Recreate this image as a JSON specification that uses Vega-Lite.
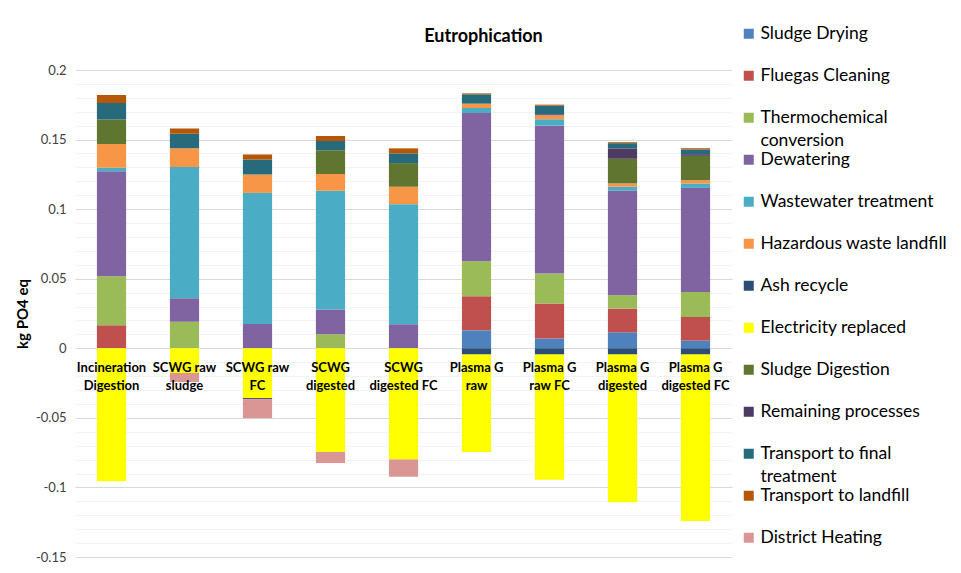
{
  "$schema": "https://vega.github.io/schema/vega-lite/v6.json",
  "width": 657,
  "height": 487,
  "autosize": {"type": "none"},
  "padding": {"left": 75, "top": 70, "right": 229, "bottom": 16},
  "background": "white",
  "title": {"text": "Eutrophication", "font": "Lato", "fontSize": 18, "fontWeight": "bold", "color": "#000000", "anchor": "middle", "dx": 80, "offset": -39, "baseline": "bottom"},
  "config": {"view": {"stroke": null}},
  "data": {"values": [
    {"category": "Incineration Digestion", "process": "Fluegas Cleaning", "value": 0.0165},
    {"category": "Incineration Digestion", "process": "Thermochemical conversion", "value": 0.0353},
    {"category": "Incineration Digestion", "process": "Dewatering", "value": 0.0755},
    {"category": "Incineration Digestion", "process": "Wastewater treatment", "value": 0.0024},
    {"category": "Incineration Digestion", "process": "Hazardous waste landfill", "value": 0.0171},
    {"category": "Incineration Digestion", "process": "Sludge Digestion", "value": 0.0177},
    {"category": "Incineration Digestion", "process": "Transport to final treatment", "value": 0.0118},
    {"category": "Incineration Digestion", "process": "Transport to landfill", "value": 0.0058},
    {"category": "Incineration Digestion", "process": "Electricity replaced", "value": -0.0955},

    {"category": "SCWG raw sludge", "process": "Thermochemical conversion", "value": 0.019},
    {"category": "SCWG raw sludge", "process": "Dewatering", "value": 0.017},
    {"category": "SCWG raw sludge", "process": "Wastewater treatment", "value": 0.0942},
    {"category": "SCWG raw sludge", "process": "Hazardous waste landfill", "value": 0.0135},
    {"category": "SCWG raw sludge", "process": "Transport to final treatment", "value": 0.0105},
    {"category": "SCWG raw sludge", "process": "Transport to landfill", "value": 0.0038},
    {"category": "SCWG raw sludge", "process": "Electricity replaced", "value": -0.0178},
    {"category": "SCWG raw sludge", "process": "District Heating", "value": -0.0065},

    {"category": "SCWG raw FC", "process": "Dewatering", "value": 0.0175},
    {"category": "SCWG raw FC", "process": "Wastewater treatment", "value": 0.0942},
    {"category": "SCWG raw FC", "process": "Hazardous waste landfill", "value": 0.0132},
    {"category": "SCWG raw FC", "process": "Transport to final treatment", "value": 0.0108},
    {"category": "SCWG raw FC", "process": "Transport to landfill", "value": 0.0036},
    {"category": "SCWG raw FC", "process": "Electricity replaced", "value": -0.0358},
    {"category": "SCWG raw FC", "process": "Remaining processes", "value": -0.0009},
    {"category": "SCWG raw FC", "process": "District Heating", "value": -0.0135},

    {"category": "SCWG digested", "process": "Thermochemical conversion", "value": 0.0101},
    {"category": "SCWG digested", "process": "Dewatering", "value": 0.0177},
    {"category": "SCWG digested", "process": "Wastewater treatment", "value": 0.0854},
    {"category": "SCWG digested", "process": "Hazardous waste landfill", "value": 0.012},
    {"category": "SCWG digested", "process": "Sludge Digestion", "value": 0.0171},
    {"category": "SCWG digested", "process": "Transport to final treatment", "value": 0.0067},
    {"category": "SCWG digested", "process": "Transport to landfill", "value": 0.0036},
    {"category": "SCWG digested", "process": "Electricity replaced", "value": -0.0746},
    {"category": "SCWG digested", "process": "District Heating", "value": -0.0079},

    {"category": "SCWG digested FC", "process": "Dewatering", "value": 0.0173},
    {"category": "SCWG digested FC", "process": "Wastewater treatment", "value": 0.0863},
    {"category": "SCWG digested FC", "process": "Hazardous waste landfill", "value": 0.0125},
    {"category": "SCWG digested FC", "process": "Sludge Digestion", "value": 0.017},
    {"category": "SCWG digested FC", "process": "Transport to final treatment", "value": 0.007},
    {"category": "SCWG digested FC", "process": "Transport to landfill", "value": 0.0036},
    {"category": "SCWG digested FC", "process": "Electricity replaced", "value": -0.0799},
    {"category": "SCWG digested FC", "process": "District Heating", "value": -0.0124},

    {"category": "Plasma G raw", "process": "Sludge Drying", "value": 0.0129},
    {"category": "Plasma G raw", "process": "Fluegas Cleaning", "value": 0.0245},
    {"category": "Plasma G raw", "process": "Thermochemical conversion", "value": 0.0252},
    {"category": "Plasma G raw", "process": "Dewatering", "value": 0.1065},
    {"category": "Plasma G raw", "process": "Wastewater treatment", "value": 0.0036},
    {"category": "Plasma G raw", "process": "Hazardous waste landfill", "value": 0.0031},
    {"category": "Plasma G raw", "process": "Transport to final treatment", "value": 0.0067},
    {"category": "Plasma G raw", "process": "Transport to landfill", "value": 0.0007},
    {"category": "Plasma G raw", "process": "Ash recycle", "value": -0.0045},
    {"category": "Plasma G raw", "process": "Electricity replaced", "value": -0.0701},

    {"category": "Plasma G raw FC", "process": "Sludge Drying", "value": 0.007},
    {"category": "Plasma G raw FC", "process": "Fluegas Cleaning", "value": 0.0252},
    {"category": "Plasma G raw FC", "process": "Thermochemical conversion", "value": 0.0215},
    {"category": "Plasma G raw FC", "process": "Dewatering", "value": 0.1063},
    {"category": "Plasma G raw FC", "process": "Wastewater treatment", "value": 0.0046},
    {"category": "Plasma G raw FC", "process": "Hazardous waste landfill", "value": 0.0029},
    {"category": "Plasma G raw FC", "process": "Remaining processes", "value": 0.0007},
    {"category": "Plasma G raw FC", "process": "Transport to final treatment", "value": 0.0062},
    {"category": "Plasma G raw FC", "process": "Transport to landfill", "value": 0.0007},
    {"category": "Plasma G raw FC", "process": "Ash recycle", "value": -0.0045},
    {"category": "Plasma G raw FC", "process": "Electricity replaced", "value": -0.09},

    {"category": "Plasma G digested", "process": "Sludge Drying", "value": 0.0115},
    {"category": "Plasma G digested", "process": "Fluegas Cleaning", "value": 0.017},
    {"category": "Plasma G digested", "process": "Thermochemical conversion", "value": 0.0096},
    {"category": "Plasma G digested", "process": "Dewatering", "value": 0.0751},
    {"category": "Plasma G digested", "process": "Wastewater treatment", "value": 0.0029},
    {"category": "Plasma G digested", "process": "Hazardous waste landfill", "value": 0.0024},
    {"category": "Plasma G digested", "process": "Sludge Digestion", "value": 0.0177},
    {"category": "Plasma G digested", "process": "Remaining processes", "value": 0.0074},
    {"category": "Plasma G digested", "process": "Transport to final treatment", "value": 0.0038},
    {"category": "Plasma G digested", "process": "Transport to landfill", "value": 0.0007},
    {"category": "Plasma G digested", "process": "Ash recycle", "value": -0.0045},
    {"category": "Plasma G digested", "process": "Electricity replaced", "value": -0.1061},

    {"category": "Plasma G digested FC", "process": "Sludge Drying", "value": 0.0055},
    {"category": "Plasma G digested FC", "process": "Fluegas Cleaning", "value": 0.017},
    {"category": "Plasma G digested FC", "process": "Thermochemical conversion", "value": 0.018},
    {"category": "Plasma G digested FC", "process": "Dewatering", "value": 0.0748},
    {"category": "Plasma G digested FC", "process": "Wastewater treatment", "value": 0.0031},
    {"category": "Plasma G digested FC", "process": "Hazardous waste landfill", "value": 0.0024},
    {"category": "Plasma G digested FC", "process": "Sludge Digestion", "value": 0.0175},
    {"category": "Plasma G digested FC", "process": "Remaining processes", "value": 0.0012},
    {"category": "Plasma G digested FC", "process": "Transport to final treatment", "value": 0.0034},
    {"category": "Plasma G digested FC", "process": "Transport to landfill", "value": 0.0009},
    {"category": "Plasma G digested FC", "process": "Ash recycle", "value": -0.0045},
    {"category": "Plasma G digested FC", "process": "Electricity replaced", "value": -0.1197}
  ]},
  "transform": [
    {"calculate": "indexof(['Sludge Drying', 'Fluegas Cleaning', 'Thermochemical conversion', 'Dewatering', 'Wastewater treatment', 'Hazardous waste landfill', 'Ash recycle', 'Electricity replaced', 'Sludge Digestion', 'Remaining processes', 'Transport to final treatment', 'Transport to landfill', 'District Heating'], datum.process)", "as": "seriesOrder"}
  ],
  "mark": {"type": "bar"},
  "encoding": {
    "x": {
      "field": "category", "type": "nominal",
      "sort": ["Incineration Digestion", "SCWG raw sludge", "SCWG raw FC", "SCWG digested", "SCWG digested FC", "Plasma G raw", "Plasma G raw FC", "Plasma G digested", "Plasma G digested FC"],
      "scale": {"paddingInner": 0.6, "paddingOuter": 0.3},
      "axis": {
        "title": null, "orient": "bottom", "offset": -208.5, "zindex": 1,
        "domain": false, "ticks": false, "labelAngle": 0,
        "labelFont": "Lato", "labelFontSize": 13, "labelFontWeight": "bold", "labelColor": "#000000",
        "labelPadding": 13, "labelLineHeight": 18, "labelLimit": 200,
        "labelExpr": "indexof(datum.label,'Plasma G')==0 ? ['Plasma G', substring(datum.label,9)] : indexof(datum.label,'SCWG raw')==0 ? ['SCWG raw', substring(datum.label,9)] : indexof(datum.label,'SCWG ')==0 ? ['SCWG', substring(datum.label,5)] : split(datum.label,' ')"
      }
    },
    "y": {
      "field": "value", "type": "quantitative", "stack": "zero",
      "scale": {"domain": [-0.15, 0.2], "nice": false, "zero": false},
      "axis": {
        "title": "kg PO4 eq", "titleFont": "Lato", "titleFontSize": 15, "titleFontWeight": "bold", "titleColor": "#000000", "titlePadding": 5,
        "values": [-0.15, -0.14, -0.13, -0.12, -0.11, -0.1, -0.09, -0.08, -0.07, -0.06, -0.05, -0.04, -0.03, -0.02, -0.01, 0, 0.01, 0.02, 0.03, 0.04, 0.05, 0.06, 0.07, 0.08, 0.09, 0.1, 0.11, 0.12, 0.13, 0.14, 0.15, 0.16, 0.17, 0.18, 0.19, 0.2],
        "domain": false, "ticks": false,
        "labelFont": "Lato", "labelFontSize": 13, "labelColor": "#404040", "labelPadding": 9,
        "labelExpr": "abs(round(datum.value*100)) % 5 != 0 ? '' : (datum.value < 0 ? '-' : '') + format(abs(datum.value), '~g')",
        "gridColor": {"condition": {"test": "abs(round(datum.value*100)) % 5 == 0", "value": "#D9D9D9"}, "value": "#F2F2F2"},
        "gridWidth": 1
      }
    },
    "order": {"field": "seriesOrder", "type": "quantitative", "sort": "ascending"},
    "color": {
      "field": "process", "type": "nominal",
      "sort": ["Sludge Drying", "Fluegas Cleaning", "Thermochemical conversion", "Dewatering", "Wastewater treatment", "Hazardous waste landfill", "Ash recycle", "Electricity replaced", "Sludge Digestion", "Remaining processes", "Transport to final treatment", "Transport to landfill", "District Heating"],
      "scale": {
        "domain": ["Sludge Drying", "Fluegas Cleaning", "Thermochemical conversion", "Dewatering", "Wastewater treatment", "Hazardous waste landfill", "Ash recycle", "Electricity replaced", "Sludge Digestion", "Remaining processes", "Transport to final treatment", "Transport to landfill", "District Heating"],
        "range": ["#4F81BD", "#C0504D", "#9BBB59", "#8064A2", "#4BACC6", "#F79646", "#2C4D75", "#FFFF00", "#5F7530", "#4D3B62", "#276A7C", "#B65708", "#D99694"]
      },
      "legend": {
        "title": null, "orient": "none", "legendX": 665, "legendY": -45, "padding": 0,
        "symbolType": "square", "symbolSize": 100, "symbolStrokeWidth": 0,
        "labelFont": "Lato", "labelFontSize": 17.5, "labelColor": "#000000", "labelOffset": 3, "labelLimit": 300,
        "labelBaseline": "top", "gridAlign": "all", "rowPadding": 0,
        "labelExpr": "datum.label == 'Thermochemical conversion' ? ['Thermochemical', 'conversion'] : datum.label == 'Transport to final treatment' ? ['Transport to final', 'treatment'] : datum.label",
        "encode": {"labels": {"update": {"dy": {"value": -9}, "lineHeight": {"value": 23}}}}
      }
    }
  }
}
